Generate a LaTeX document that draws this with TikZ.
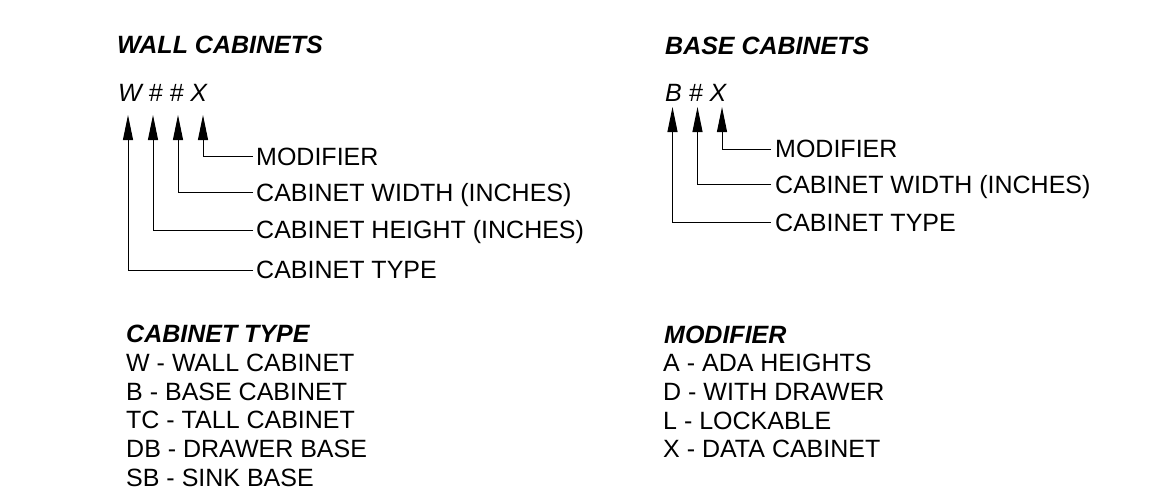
\documentclass[tikz,border=0pt]{standalone}
\usepackage{fontspec}
\setmainfont{Liberation Sans}
\usetikzlibrary{arrows.meta}
\begin{document}
\begin{tikzpicture}[x=1pt,y=-1pt,
  txt/.style={inner sep=0pt,anchor=base west,font=\fontsize{25}{30}\selectfont},
  head/.style={txt,font=\fontsize{25}{30}\selectfont\bfseries\itshape},
  code/.style={txt,font=\fontsize{25}{30}\selectfont\itshape},
  lead/.style={line width=1pt,-{Triangle[length=25pt,width=10pt]}}]
\useasboundingbox (0,0) rectangle (1169,490);
% ---------- Wall cabinets ----------
\node[head] (wh) at (117,53.5) {WALL CABINETS};
\node[code] (wc) at (118,101) {W \# \# X};
\coordinate (wt1) at (128,115);
\coordinate (wt2) at (153,115);
\coordinate (wt3) at (178,115);
\coordinate (wt4) at (203,115);
\node[txt] (wl4) at (256,165) {MODIFIER};
\node[txt] (wl3) at (256,201) {CABINET WIDTH (INCHES)};
\node[txt] (wl2) at (256,238.5) {CABINET HEIGHT (INCHES)};
\node[txt] (wl1) at (256,278.5) {CABINET TYPE};
\draw[lead] ([xshift=-3pt,yshift=8.5pt]wl4.base west) -| (wt4);
\draw[lead] ([xshift=-3pt,yshift=8.5pt]wl3.base west) -| (wt3);
\draw[lead] ([xshift=-3pt,yshift=8.5pt]wl2.base west) -| (wt2);
\draw[lead] ([xshift=-3pt,yshift=8.5pt]wl1.base west) -| (wt1);
% ---------- Base cabinets ----------
\node[head] (bh) at (665,54) {BASE CABINETS};
\node[code] (bc) at (665,101.5) {B \# X};
\coordinate (bt1) at (672.5,107);
\coordinate (bt2) at (697.5,107);
\coordinate (bt3) at (722,107);
\node[txt] (bl3) at (775,157.5) {MODIFIER};
\node[txt] (bl2) at (775,193) {CABINET WIDTH (INCHES)};
\node[txt] (bl1) at (775,231) {CABINET TYPE};
\draw[lead] ([xshift=-4pt,yshift=8.5pt]bl3.base west) -| (bt3);
\draw[lead] ([xshift=-4pt,yshift=8.5pt]bl2.base west) -| (bt2);
\draw[lead] ([xshift=-4pt,yshift=8.5pt]bl1.base west) -| (bt1);
% ---------- Legends ----------
\node[head] (th) at (126,342.3) {CABINET TYPE};
\node[txt] (t1) at (126,371.7) {W - WALL CABINET};
\node[txt] (t2) at (126,400.3) {B - BASE CABINET};
\node[txt] (t3) at (126,428.8) {TC - TALL CABINET};
\node[txt] (t4) at (126,457.7) {DB - DRAWER BASE};
\node[txt] (t5) at (126,486.5) {SB - SINK BASE};
\node[head] (mh) at (664,343) {MODIFIER};
\node[txt] (m1) at (663,371.7) {A - ADA HEIGHTS};
\node[txt] (m2) at (663,400.5) {D - WITH DRAWER};
\node[txt] (m3) at (663,429) {L - LOCKABLE};
\node[txt] (m4) at (663,457.7) {X - DATA CABINET};
\end{tikzpicture}
\end{document}
